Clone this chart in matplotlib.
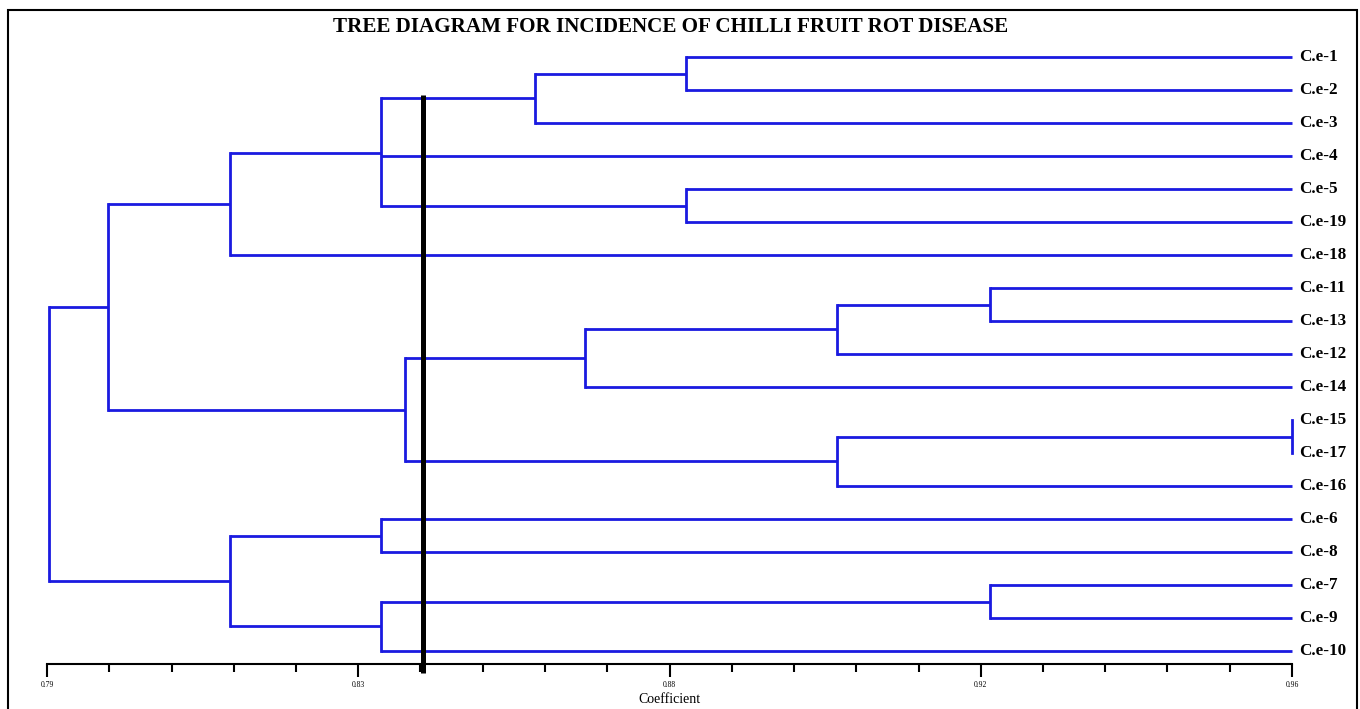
import matplotlib
matplotlib.use("Agg")
import matplotlib.pyplot as plt
from matplotlib.patches import Rectangle
import numpy as np

# ---- data ----
leaves = ["C.e-1", "C.e-2", "C.e-3", "C.e-4", "C.e-5", "C.e-19", "C.e-18",
          "C.e-11", "C.e-13", "C.e-12", "C.e-14", "C.e-15", "C.e-17", "C.e-16",
          "C.e-6", "C.e-8", "C.e-7", "C.e-9", "C.e-10"]
# internal nodes: children (leaf names or node ids "nK") and similarity level
node_children = [
    ["C.e-1", "C.e-2"],          # n0
    ["n0", "C.e-3"],             # n1
    ["C.e-5", "C.e-19"],         # n2
    ["n1", "C.e-4", "n2"],       # n3
    ["n3", "C.e-18"],            # n4
    ["C.e-11", "C.e-13"],        # n5
    ["n5", "C.e-12"],            # n6
    ["n6", "C.e-14"],            # n7
    ["C.e-15", "C.e-17"],        # n8
    ["n8", "C.e-16"],            # n9
    ["n7", "n9"],                # n10
    ["n4", "n10"],               # n11
    ["C.e-6", "C.e-8"],          # n12
    ["C.e-7", "C.e-9"],          # n13
    ["n13", "C.e-10"],           # n14
    ["n12", "n14"],              # n15
    ["n11", "n15"],              # n16
]
node_level = [0.8773, 0.8566, 0.8773, 0.8356, 0.8150, 0.9188, 0.8979, 0.8634,
              0.9600, 0.8979, 0.8389, 0.7983, 0.8356, 0.9188, 0.8356, 0.8150,
              0.7903]
leaf_level = 0.96
cut_level = 0.8413
tick_values = [0.79, 0.8325, 0.875, 0.9175, 0.96]
tick_labels = ["0.79", "0.83", "0.88", "0.92", "0.96"]
title = "TREE DIAGRAM FOR INCIDENCE OF CHILLI FRUIT ROT DISEASE"

# ---- figure ----
W, H = 1360, 709
fig = plt.figure(figsize=(W / 100, H / 100), dpi=100)
fig.patch.set_facecolor("white")

x_left, x_right = 47, 1292
y_top, y_axis = 40, 664
ax = fig.add_axes([x_left / W, 1 - y_axis / H, (x_right - x_left) / W, (y_axis - y_top) / H])
ax.set_xlim(0.79, 0.96)
leaf_px0, leaf_step = 57, 33
ax.set_ylim((y_axis - leaf_px0) / leaf_step, (y_top - leaf_px0) / leaf_step)

blue = "#1a1ae0"
lw = 2.0

pos = {}
for i, name in enumerate(leaves):
    pos[name] = (leaf_level, float(i))

for k, (ch, lev) in enumerate(zip(node_children, node_level)):
    ys = [pos[c][1] for c in ch]
    for c in ch:
        cx, cy = pos[c]
        if cx != lev:
            ax.plot([lev, cx], [cy, cy], color=blue, lw=lw, solid_capstyle="butt",
                    zorder=2, clip_on=False)
    ax.plot([lev, lev], [min(ys), max(ys)], color=blue, lw=lw,
            solid_capstyle="projecting", zorder=2, clip_on=False)
    pos["n%d" % k] = (lev, float(np.mean(ys)))

# cut line
ax.plot([cut_level, cut_level], [(95 - leaf_px0) / leaf_step, (673 - leaf_px0) / leaf_step],
        color="black", lw=3.6, clip_on=False, zorder=3, solid_capstyle="butt")

# leaf labels
for i, name in enumerate(leaves):
    ax.annotate(name, xy=(leaf_level, i), xytext=(5, 0), textcoords="offset points",
                ha="left", va="center", fontsize=12.3, fontweight="bold",
                family="Liberation Serif", annotation_clip=False)

# axis styling
for s in ["top", "right", "left"]:
    ax.spines[s].set_visible(False)
ax.spines["bottom"].set_linewidth(1.5)
ax.set_yticks([])
ax.set_xticks(tick_values)
ax.set_xticklabels(tick_labels, fontsize=5.5, family="Liberation Serif")
minor = []
for a, b in zip(tick_values[:-1], tick_values[1:]):
    minor += list(np.linspace(a, b, 6)[1:-1])
ax.set_xticks(minor, minor=True)
ax.tick_params(axis="x", which="major", direction="out", length=9, width=1.5, pad=3)
ax.tick_params(axis="x", which="minor", direction="out", length=6, width=1.5)
ax.set_xlabel("Coefficient", fontsize=10, family="Liberation Serif", labelpad=3)
ax.patch.set_alpha(0)

fig.text(671 / W, 1 - 27 / H, title, ha="center", va="center", fontsize=15.2,
         fontweight="bold", family="Liberation Serif")

fig.patches.append(Rectangle((8 / W, -0.05), (1357 - 8) / W, 1.05 - 10 / H,
                             transform=fig.transFigure, fill=False,
                             edgecolor="black", lw=1.5))

fig.savefig("out.png", dpi=100)
